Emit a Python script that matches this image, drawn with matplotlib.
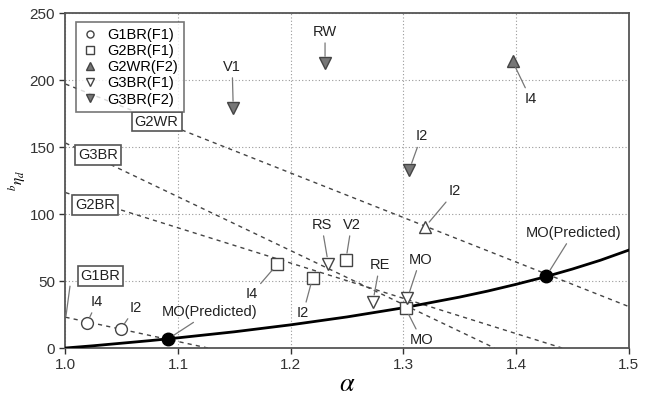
import matplotlib.pyplot as plt
import numpy as np

plt.rcParams['font.family'] = ['Liberation Sans', 'DejaVu Sans']
plt.rcParams['mathtext.fontset'] = 'stix'

# solid curve
curve_a = [1.0, 1.025, 1.05, 1.075, 1.1, 1.15, 1.2, 1.25, 1.3, 1.35, 1.375,
           1.4, 1.425, 1.45, 1.475, 1.5]
curve_v = [0, 1.7, 3.6, 5.5, 7.6, 12.1, 17.3, 23.2, 30.0, 38.0, 42.5,
           47.5, 52.9, 58.9, 65.5, 73.0]

# dashed lines: name, (a0, v0), (a1, v1)
line_names = ['G1BR', 'G2BR', 'G3BR', 'G2WR']
line_a0 = [1.0, 1.0, 1.0, 1.0]
line_v0 = [23, 116, 153, 197]
line_a1 = [1.1265, 1.441, 1.381, 1.5]
line_v1 = [0, 0, 0, 31]

# data points
g1br_f1_a = [1.019, 1.049]
g1br_f1_v = [18.4, 14.0]
g1br_f1_lab = ['I4', 'I2']

g2br_f1_a = [1.188, 1.2195, 1.249, 1.302]
g2br_f1_v = [62.4, 52.5, 65.7, 29.6]
g2br_f1_lab = ['I4', 'I2', 'V2', 'MO']

g2wr_f2_a = [1.397]
g2wr_f2_v = [214]
g2wr_f2_lab = ['I4']

open_up_a = [1.319]
open_up_v = [90]
open_up_lab = ['I2']

g3br_f1_a = [1.2334, 1.273, 1.3036]
g3br_f1_v = [63, 34.5, 37]
g3br_f1_lab = ['RS', 'RE', 'MO']

g3br_f2_a = [1.149, 1.2305, 1.3053]
g3br_f2_v = [179, 212.5, 133]
g3br_f2_lab = ['V1', 'RW', 'I2']

pred_a = [1.091, 1.427]
pred_v = [6.7, 53.7]
pred_lab = ['MO(Predicted)', 'MO(Predicted)']

# label positions (layout)
pos_g1 = [(1.028, 34.5), (1.062, 30)]
pos_g2 = [(1.165, 40), (1.211, 26), (1.254, 92), (1.3163, 6)]
pos_g2wr = [(1.413, 186)]
pos_up = [(1.346, 117)]
pos_g3f1 = [(1.2275, 92), (1.279, 62), (1.315, 66)]
pos_g3f2 = [(1.148, 210), (1.2305, 236), (1.316, 158)]
pos_pred = [(1.128, 27), (1.451, 86)]
box_pos = [(1.031, 53.7), (1.026, 106.7), (1.029, 144), (1.081, 169)]

fig = plt.figure(figsize=(6.48, 3.97), dpi=100)
ax = fig.add_axes([0.101, 0.1234, 0.869, 0.8438])

dk = '#444444'
ax.grid(True, linestyle=(0, (1, 2)), color='#999999', linewidth=0.8)
ax.set_axisbelow(True)

for a0, v0, a1, v1 in zip(line_a0, line_v0, line_a1, line_v1):
    ax.plot([a0, a1], [v0, v1], linestyle=(0, (3, 3)), color=dk, linewidth=1.0, zorder=2)

ax.plot(curve_a, curve_v, color='black', linewidth=2.0, zorder=3)

ms = 8.5
ax.plot(g1br_f1_a, g1br_f1_v, 'o', ms=ms, mfc='white', mec=dk, mew=1.0, ls='none', zorder=5, label='G1BR(F1)')
ax.plot(g2br_f1_a, g2br_f1_v, 's', ms=ms, mfc='white', mec=dk, mew=1.0, ls='none', zorder=5, label='G2BR(F1)')
ax.plot(g2wr_f2_a, g2wr_f2_v, '^', ms=ms, mfc='#777777', mec=dk, mew=1.0, ls='none', zorder=5, label='G2WR(F2)')
ax.plot(g3br_f1_a, g3br_f1_v, 'v', ms=ms, mfc='white', mec=dk, mew=1.0, ls='none', zorder=5, label='G3BR(F1)')
ax.plot(g3br_f2_a, g3br_f2_v, 'v', ms=ms, mfc='#777777', mec=dk, mew=1.0, ls='none', zorder=5, label='G3BR(F2)')
ax.plot(open_up_a, open_up_v, '^', ms=ms, mfc='white', mec=dk, mew=1.0, ls='none', zorder=5)
ax.plot(pred_a, pred_v, 'o', ms=9, mfc='black', mec='black', ls='none', zorder=6)

def annotate(xs, ys, labs, poss):
    for x, y, t, p in zip(xs, ys, labs, poss):
        ax.annotate(t, xy=(x, y), xytext=p, ha='center', va='center', fontsize=10.5,
                    color='#222222',
                    arrowprops=dict(arrowstyle='-', color='#777777', lw=0.9,
                                    shrinkA=1, shrinkB=5), zorder=7)

annotate(g1br_f1_a, g1br_f1_v, g1br_f1_lab, pos_g1)
annotate(g2br_f1_a, g2br_f1_v, g2br_f1_lab, pos_g2)
annotate(g2wr_f2_a, g2wr_f2_v, g2wr_f2_lab, pos_g2wr)
annotate(open_up_a, open_up_v, open_up_lab, pos_up)
annotate(g3br_f1_a, g3br_f1_v, g3br_f1_lab, pos_g3f1)
annotate(g3br_f2_a, g3br_f2_v, g3br_f2_lab, pos_g3f2)
annotate(pred_a, pred_v, pred_lab, pos_pred)

# line name boxes
for name, p in zip(line_names, box_pos):
    ax.text(p[0], p[1], name, ha='center', va='center', fontsize=10.5, color='#222222', zorder=8,
            bbox=dict(boxstyle='square,pad=0.2', fc='white', ec='#555555', lw=1.2))
# leader from G1BR box to its line
ax.plot([1.004, 1.0005], [46, 24], color='#777777', lw=0.9, zorder=4)

ax.set_xlim(1.0, 1.5)
ax.set_ylim(0, 250)
ax.set_xticks([1.0, 1.1, 1.2, 1.3, 1.4, 1.5])
ax.set_yticks([0, 50, 100, 150, 200, 250])
ax.tick_params(labelsize=11, colors='#333333', length=4, width=1)
for s in ax.spines.values():
    s.set_color('#555555')
    s.set_linewidth(1.3)

ax.set_xlabel(r'$\alpha$', fontsize=19, labelpad=0)
ax.set_ylabel(r'$^{b}\eta_{d}$', fontsize=11)
ax.yaxis.set_label_coords(-0.068, 0.5)

leg = ax.legend(loc='upper left', fontsize=10.5, frameon=True, fancybox=False,
                edgecolor='#555555', handletextpad=0.6, borderpad=0.4,
                labelspacing=0.15, markerscale=0.6, handlelength=1.2,
                bbox_to_anchor=(0.005, 0.995))
leg.get_frame().set_linewidth(1.2)
leg.set_zorder(9)

fig.savefig('out.png', dpi=100)
